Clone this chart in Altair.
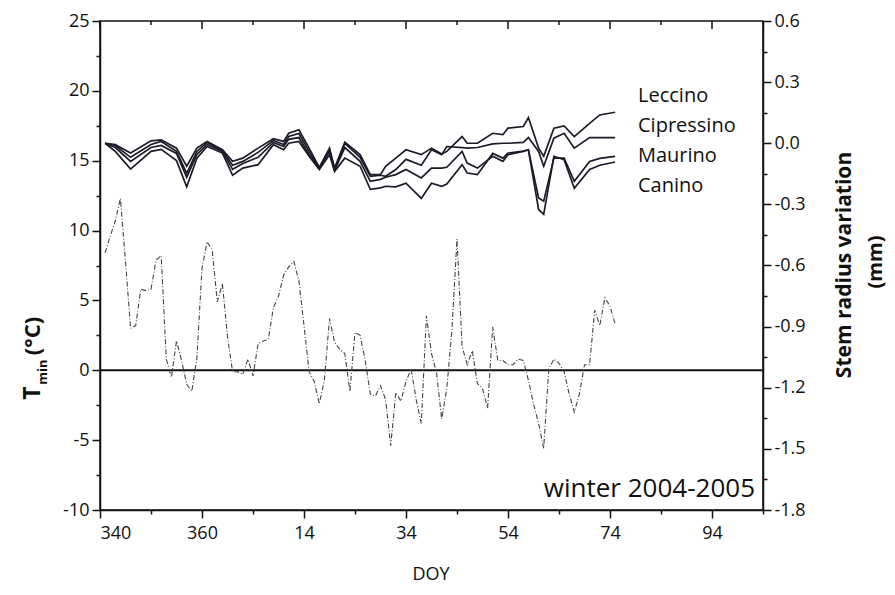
import altair as alt
import pandas as pd
import numpy as np

# ---------------- data ----------------
# x axis is a running day index: DOY of 2004 (leap year, 366 days) continuing into 2005
x_ticks = list(range(340, 471, 10))
left_ticks = [-10 + 2.5 * i for i in range(15)]
right_ticks = [round(-1.8 + 0.15 * i, 2) for i in range(17)]

tmin_first_day = 341
tmin = [8.4, 9.6, 10.7, 12.3, 7.8, 3.0, 3.2, 5.8, 5.7, 5.8,
        7.9, 8.2, 0.8, -0.5, 2.1, 0.7, -1.0, -1.5, 0.9, 7.3,
        9.2, 8.6, 4.9, 6.2, 2.4, -0.1, -0.1, -0.3, 0.8, -0.4,
        1.9, 2.1, 2.2, 4.5, 5.3, 6.8, 7.4, 7.8, 6.4, 3.2,
        -0.1, -0.8, -2.4, -0.7, 3.7, 2.0, 1.5, 1.2, -1.5, 2.7,
        2.5, 0.7, -1.7, -1.85, -1.1, -2.1, -5.4, -1.6, -2.2, -0.8,
        0.1, -2.1, -3.8, 3.9, 1.2, -0.2, -3.5, -1.3, 2.85, 9.4,
        1.7, 0.4, 1.4, -0.95, -1.3, -2.7, 3.1, 0.7, 0.7, 0.4,
        0.4, 0.8, 0.7, -0.7, -2.4, -3.8, -5.6, 0.1, 0.8, 0.5,
        -0.1, -1.7, -3.0, -1.7, 0.4, 0.4, 4.3, 3.2, 5.2, 4.6, 3.3]

stem_days = [341, 343, 346, 350, 352, 355, 357, 359, 361, 364, 366, 368, 371, 374, 376, 377,
             379, 381, 383, 385, 386, 388, 391, 393, 395, 396, 398, 400, 403, 405, 407, 408,
             411, 412, 414, 417, 419, 420, 423, 424, 426, 427, 429, 431, 433, 436, 438, 441]
leccino = [0, -0.007, -0.048, 0.012, 0.017, -0.024, -0.113, -0.024, 0.009, -0.032, -0.089, -0.073,
           -0.024, 0.022, 0.009, 0.049, 0.066, -0.024, -0.118, -0.024, -0.122, 0.005, -0.056, -0.154,
           -0.154, -0.113, -0.073, -0.032, -0.056, -0.024, -0.053, -0.040, 0.033, 0.0, 0.0, 0.049,
           0.042, 0.074, 0.082, 0.126, -0.024, -0.064, 0.074, 0.085, 0.033, 0.098, 0.139, 0.152]
cipressino = [0, -0.011, -0.069, -0.006, 0.009, -0.040, -0.148, -0.040, 0.004, -0.035, -0.108, -0.089,
              -0.045, 0.014, -0.006, 0.033, 0.048, -0.040, -0.122, -0.032, -0.128, -0.001, -0.069, -0.162,
              -0.157, -0.162, -0.129, -0.079, -0.108, -0.032, -0.056, -0.016, -0.021, -0.024, -0.021, -0.003,
              0.0, 0.0, 0.004, 0.028, -0.040, -0.113, 0.025, 0.049, -0.024, 0.028, 0.028, 0.028]
maurino = [0, -0.021, -0.089, -0.021, -0.011, -0.050, -0.167, -0.055, -0.006, -0.040, -0.128, -0.099,
           -0.069, 0.004, -0.016, 0.019, 0.028, -0.055, -0.123, -0.040, -0.133, -0.021, -0.089, -0.187,
           -0.177, -0.167, -0.154, -0.129, -0.170, -0.122, -0.122, -0.118, -0.040, -0.097, -0.122, -0.064,
           -0.089, -0.056, -0.040, -0.032, -0.268, -0.284, -0.073, -0.073, -0.187, -0.089, -0.074, -0.064]
canino = [0, -0.040, -0.127, -0.040, -0.030, -0.085, -0.214, -0.073, -0.016, -0.048, -0.157, -0.122,
          -0.105, -0.007, -0.032, 0.0, 0.009, -0.064, -0.129, -0.056, -0.138, -0.073, -0.113, -0.226,
          -0.219, -0.211, -0.214, -0.196, -0.271, -0.196, -0.211, -0.200, -0.105, -0.146, -0.154, -0.050,
          -0.073, -0.048, -0.038, -0.032, -0.325, -0.349, -0.064, -0.081, -0.221, -0.129, -0.108, -0.092]
series_names = ["Leccino", "Cipressino", "Maurino", "Canino"]

# ---------------- tables ----------------
tmin_df = pd.DataFrame({"day": np.arange(tmin_first_day, tmin_first_day + len(tmin)), "tmin": tmin})
stem_df = pd.concat(
    [pd.DataFrame({"day": stem_days, "stem": vals, "series": name})
     for name, vals in zip(series_names, [leccino, cipressino, maurino, canino])],
    ignore_index=True)
zero_df = pd.DataFrame({"tmin": [0.0]})
top_major_df = pd.DataFrame({"day": [d for d in x_ticks if (d - 340) % 20 == 0]})
top_minor_df = pd.DataFrame({"day": [d for d in x_ticks if (d - 340) % 20 != 0]})

FONT = "Open Sans"
INK = "#111111"
W, H = 663, 489
TOP = 13

x_scale = alt.Scale(domain=[340, 470], nice=False, zero=False)
x_label_expr = ("(datum.value - 340) % 20 === 0 ? "
                "(datum.value > 366 ? '' + (datum.value - 366) : '' + datum.value) : ''")
x_axis = alt.Axis(orient="bottom", values=x_ticks, title=None, grid=False,
                  labelExpr=x_label_expr,
                  tickSize={"condition": {"test": "(datum.value - 340) % 20 !== 0", "value": 4}, "value": 8},
                  labelFont=FONT, labelFontSize=18, labelColor=INK, labelPadding=6,
                  tickColor=INK, tickWidth=1.5, domainColor=INK, domainWidth=1.5)

left_scale = alt.Scale(domain=[-10, 25], nice=False, zero=False)
left_axis = alt.Axis(orient="left", values=left_ticks, title=None, grid=False,
                     labelExpr="datum.value % 5 === 0 ? '' + datum.value : ''",
                     tickSize={"condition": {"test": "datum.value % 5 !== 0", "value": 4}, "value": 8},
                     labelFont=FONT, labelFontSize=18, labelColor=INK, labelPadding=3,
                     tickColor=INK, tickWidth=1.5, domainColor=INK, domainWidth=1.5)

right_scale = alt.Scale(domain=[-1.8, 0.6], nice=False, zero=False)
right_axis = alt.Axis(orient="right", values=right_ticks, title=None, grid=False,
                      labelExpr="abs(round(datum.value * 100)) % 30 === 0 ? "
                                "replace(format(datum.value, '.1f'), '\u2212', '-') : ''",
                      tickSize={"condition": {"test": "abs(round(datum.value * 100)) % 30 !== 0", "value": 4},
                                "value": 8},
                      labelFont=FONT, labelFontSize=18, labelColor=INK, labelPadding=3,
                      tickColor=INK, tickWidth=1.5, domainColor=INK, domainWidth=1.5)

X = alt.X("day:Q", scale=x_scale, axis=x_axis)

zero_rule = alt.Chart(zero_df).mark_rule(color=INK, strokeWidth=2).encode(
    y=alt.Y("tmin:Q", scale=left_scale, axis=left_axis))

tmin_line = alt.Chart(tmin_df).mark_line(color="#444444", strokeWidth=1.1,
                                          strokeDash=[5, 2, 1, 2]).encode(
    x=X, y=alt.Y("tmin:Q", scale=left_scale, axis=left_axis))

top_major = alt.Chart(top_major_df).mark_rule(color=INK, strokeWidth=1.5).encode(
    x=X, y=alt.value(0), y2=alt.value(8))
top_minor = alt.Chart(top_minor_df).mark_rule(color=INK, strokeWidth=1.5).encode(
    x=X, y=alt.value(0), y2=alt.value(4))

left_group = alt.layer(zero_rule, tmin_line, top_major, top_minor)

stem_lines = alt.Chart(stem_df).mark_line(color="#1b1b2a", strokeWidth=1.7).encode(
    x=X, y=alt.Y("stem:Q", scale=right_scale, axis=right_axis), detail="series:N")


def text_layer(txt, x, y, size, weight="normal", angle=0, align="left", baseline="alphabetic"):
    # x, y given in page pixels relative to the plot's top-left corner
    return alt.Chart(pd.DataFrame({"t": [txt]})).mark_text(
        font=FONT, fontSize=size, fontWeight=weight, angle=angle, align=align,
        baseline=baseline, color=INK).encode(x=alt.value(x), y=alt.value(y - (TOP - 11)), text="t:N")


annotations = [
    text_layer("Leccino", 538, 83, 20),
    text_layer("Cipressino", 538, 113, 20),
    text_layer("Maurino", 538, 143, 20),
    text_layer("Canino", 538, 173, 20),
    text_layer("winter 2004-2005", 655, 478, 26, align="right"),
    text_layer("DOY", 331, 556, 18, align="center", baseline="middle"),
    text_layer("T", -67, 374, 23, weight="bold", angle=270, align="center", baseline="middle"),
    text_layer("min", -57, 353, 13, weight="bold", angle=270, align="center", baseline="middle"),
    text_layer("(°C)", -67, 317, 22, weight="bold", angle=270, align="center", baseline="middle"),
    text_layer("Stem radius variation", 745, 246, 21, weight="bold", angle=270, align="center",
               baseline="middle"),
    text_layer("(mm)", 776, 243, 20, weight="bold", angle=270, align="center", baseline="middle"),
]

right_group = alt.layer(stem_lines, *annotations)

chart = alt.layer(left_group, right_group).resolve_scale(y="independent").properties(
    width=W, height=H,
    autosize=alt.AutoSizeParams(type="none"),
    padding={"left": 92, "top": TOP, "right": 124, "bottom": 76},
    background="white",
).configure_view(stroke=INK, strokeWidth=1.5)

chart.save("out.html", embed_options={"renderer": "svg", "actions": False})
